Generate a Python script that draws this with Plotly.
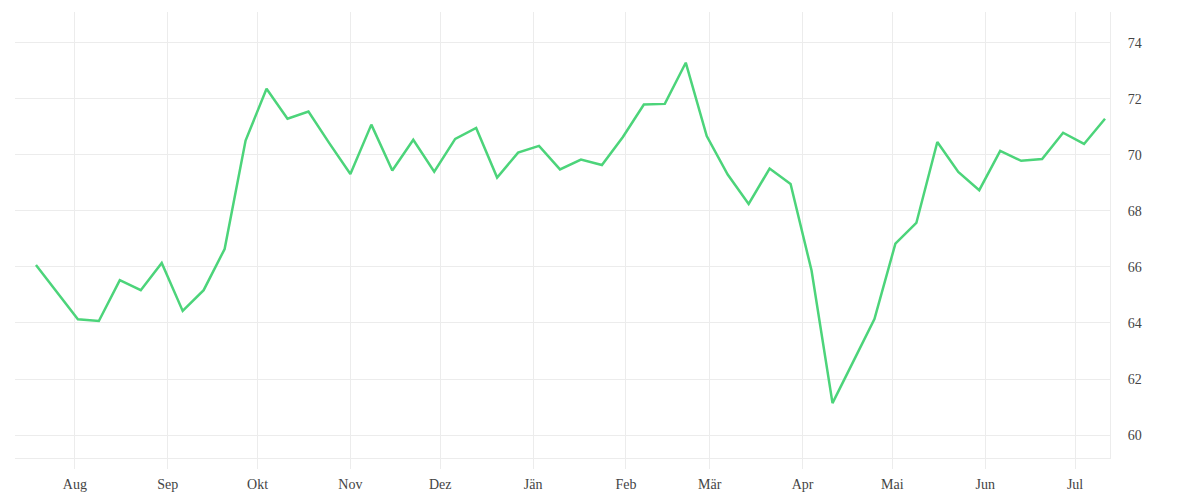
import pandas as pd
import plotly.graph_objects as go

# Weekly values
start_date = "2018-07-19"
values = [
    66.07, 65.11, 64.13, 64.07, 65.53, 65.17, 66.14, 64.43, 65.17, 66.64,
    70.51, 72.36, 71.29, 71.55, 70.41, 69.32, 71.08, 69.44, 70.54, 69.40,
    70.57, 70.96, 69.19, 70.08, 70.32, 69.48, 69.83, 69.64, 70.64, 71.80,
    71.82, 73.29, 70.67, 69.30, 68.25, 69.51, 68.96, 65.87, 61.14, 62.64,
    64.14, 66.83, 67.57, 70.46, 69.39, 68.74, 70.14, 69.79, 69.85, 70.79,
    70.39, 71.29,
]
dates = pd.date_range(start_date, periods=len(values), freq="7D")

month_ticks = pd.date_range("2018-08-01", "2019-07-01", freq="MS")
month_labels = ["Aug", "Sep", "Okt", "Nov", "Dez", "Jän",
                "Feb", "Mär", "Apr", "Mai", "Jun", "Jul"]
y_ticks = [60, 62, 64, 66, 68, 70, 72, 74]

grid = "#ececec"

fig = go.Figure()
fig.add_scatter(
    x=dates,
    y=values,
    mode="lines",
    line=dict(color="#4cd47a", width=2.5),
    hoverinfo="x+y",
)

# page body adds 8px, so margins are shifted to compensate
fig.update_layout(
    width=1200,
    height=500,
    margin=dict(l=7, r=98, t=4, b=50),
    paper_bgcolor="white",
    plot_bgcolor="white",
    showlegend=False,
    font=dict(family="Liberation Serif", size=14, color="#444"),
    xaxis=dict(
        range=["2018-07-12", "2019-07-12 16:00"],
        tickvals=month_ticks,
        ticktext=month_labels,
        showgrid=True,
        gridcolor=grid,
        showline=True,
        linecolor=grid,
        ticks="outside",
        ticklen=10,
        tickcolor=grid,
        ticklabelstandoff=3,
        zeroline=False,
    ),
    yaxis=dict(
        side="right",
        range=[59.18, 75.1],
        tickvals=y_ticks,
        showgrid=True,
        gridcolor=grid,
        showline=True,
        linecolor=grid,
        ticks="",
        ticklabelstandoff=14,
        zeroline=False,
    ),
)

fig.write_html("out.html")
